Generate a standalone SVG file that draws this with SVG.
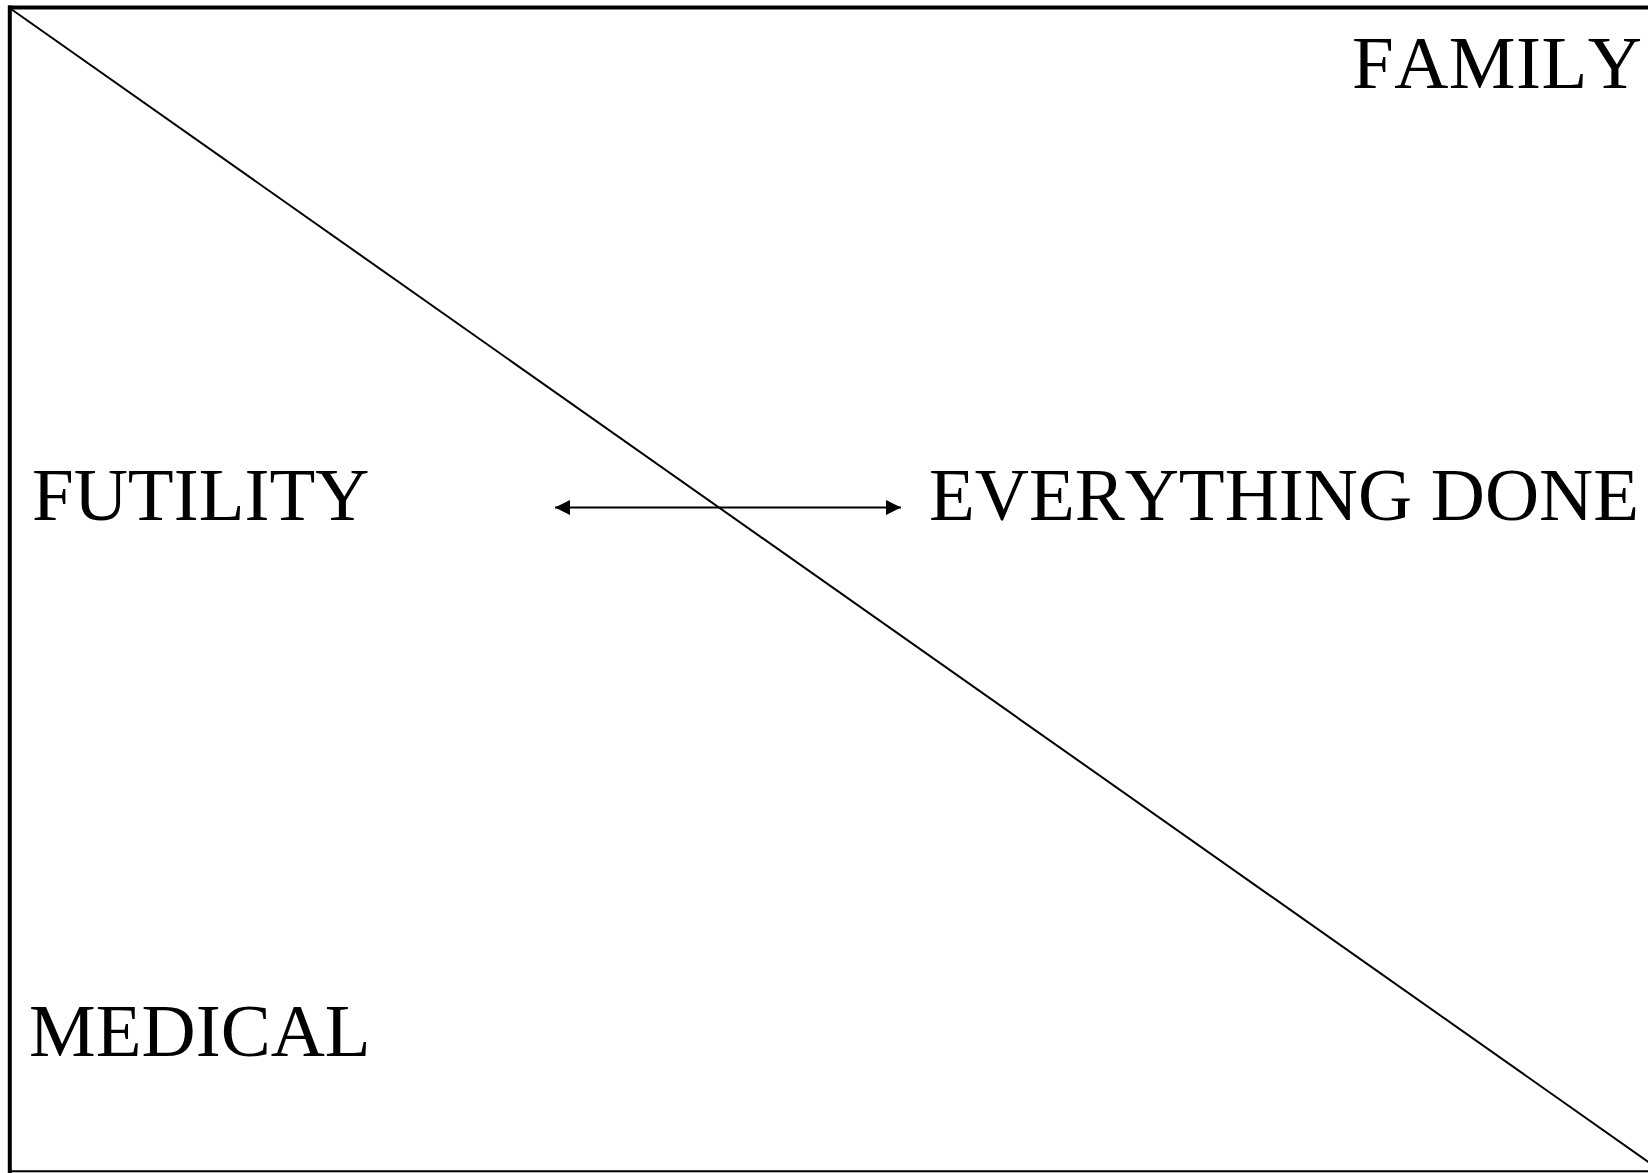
<svg xmlns="http://www.w3.org/2000/svg" width="1648" height="1173" viewBox="0 0 1648 1173">
<defs>
<style>
.lbl{font-family:"Liberation Serif","Times New Roman",serif;font-size:75px;fill:#000;font-kerning:none}
.ln{stroke:#000;fill:none}
</style>
<marker id="ah" viewBox="0 0 15 15" refX="15" refY="7.5" markerWidth="15" markerHeight="15" markerUnits="userSpaceOnUse" orient="auto-start-reverse">
<path d="M0,0 L15,7.5 L0,15 Z" fill="#000"/>
</marker>
</defs>
<rect width="1648" height="1173" fill="#fff"/>
<g id="frame">
<line class="ln" x1="8" y1="7.5" x2="1648" y2="7.5" stroke-width="4"/>
<line class="ln" x1="9.8" y1="5.5" x2="9.8" y2="1173" stroke-width="4"/>
<line class="ln" x1="8" y1="1171.2" x2="1648" y2="1171.2" stroke-width="2"/>
</g>
<g id="connectors">
<line id="diagonal" class="ln" x1="11" y1="9" x2="1652" y2="1164.5" stroke-width="2"/>
<line id="arrow" class="ln" x1="555" y1="507.5" x2="901" y2="507.5" stroke-width="2" marker-start="url(#ah)" marker-end="url(#ah)"/>
</g>
<g id="family"><text class="lbl" x="1352" y="88" textLength="290" lengthAdjust="spacing">FAMILY</text></g>
<g id="futility"><text class="lbl" x="32" y="520">FUTILITY</text></g>
<g id="everything-done"><text class="lbl" x="929" y="520" textLength="710" lengthAdjust="spacing">EVERYTHING DONE</text></g>
<g id="medical"><text class="lbl" x="29" y="1056">MEDICAL</text></g>
</svg>
